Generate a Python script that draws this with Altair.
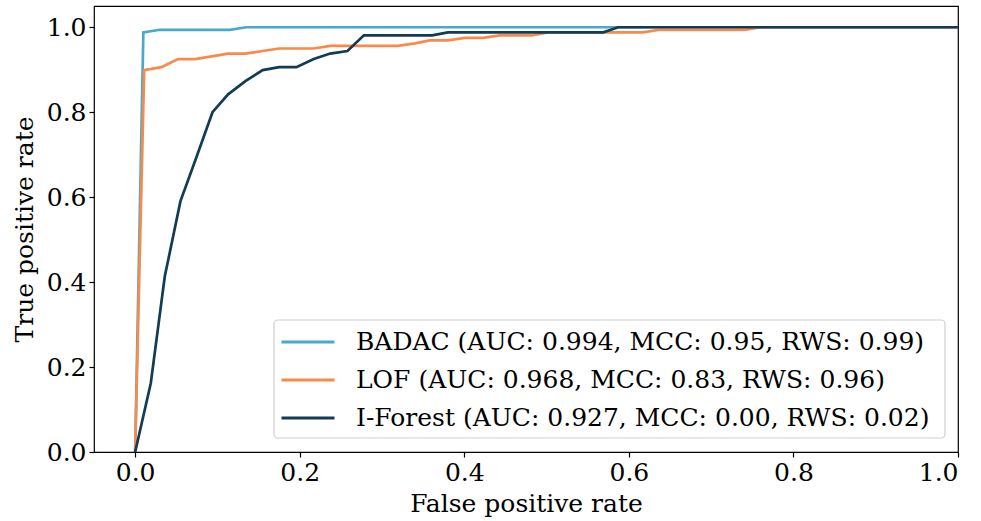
import altair as alt
import pandas as pd

series_names = ["BADAC (AUC: 0.994, MCC: 0.95, RWS: 0.99)",
                "LOF (AUC: 0.968, MCC: 0.83, RWS: 0.96)",
                "I-Forest (AUC: 0.927, MCC: 0.00, RWS: 0.02)"]
colors = ["#47aacd", "#fa8a4b", "#123b54"]

badac_fpr = [0.0, 0.010, 0.030, 0.115, 0.135, 1.0]
badac_tpr = [0.0, 0.988, 0.994, 0.994, 1.0, 1.0]

lof_fpr = [0.0, 0.011, 0.032, 0.052, 0.073, 0.095, 0.113, 0.134, 0.155, 0.175,
           0.217, 0.237, 0.319, 0.340, 0.358, 0.380, 0.401, 0.423, 0.443, 0.482,
           0.502, 0.617, 0.637, 0.741, 0.760, 1.0]
lof_tpr = [0.0, 0.899, 0.906, 0.925, 0.925, 0.932, 0.938, 0.938, 0.944, 0.950,
           0.950, 0.956, 0.956, 0.962, 0.969, 0.969, 0.975, 0.975, 0.981, 0.981,
           0.988, 0.988, 0.994, 0.994, 1.0, 1.0]

if_fpr = [0.0, 0.019, 0.036, 0.055, 0.075, 0.094, 0.113, 0.134, 0.155, 0.175,
          0.196, 0.217, 0.237, 0.258, 0.278, 0.361, 0.380, 0.569, 0.587, 1.0]
if_tpr = [0.0, 0.162, 0.413, 0.590, 0.697, 0.800, 0.842, 0.873, 0.899, 0.906,
          0.906, 0.925, 0.938, 0.944, 0.981, 0.981, 0.988, 0.988, 1.0, 1.0]

tick_values = [0.0, 0.2, 0.4, 0.6, 0.8, 1.0]

rows = []
for name, fx, ty in zip(series_names, [badac_fpr, lof_fpr, if_fpr], [badac_tpr, lof_tpr, if_tpr]):
    for i, (a, b) in enumerate(zip(fx, ty)):
        rows.append({"series": name, "fpr": a, "tpr": b, "idx": i})
df = pd.DataFrame(rows)

FONT = "DejaVu Serif"
FS = 25

color_scale = alt.Scale(domain=series_names, range=colors)

def layer(name):
    return alt.Chart(df).transform_filter(
        alt.datum.series == name
    ).mark_line(strokeWidth=2.7, clip=True).encode(
        x=alt.X("fpr:Q", scale=alt.Scale(domain=[-0.05, 1.0], nice=False, zero=False),
                axis=alt.Axis(values=tick_values, format=".1f", title="False positive rate")),
        y=alt.Y("tpr:Q", scale=alt.Scale(domain=[0.0, 1.05], nice=False),
                axis=alt.Axis(values=tick_values, format=".1f", title="True positive rate")),
        color=alt.Color("series:N", scale=color_scale,
                        legend=alt.Legend(
                            title=None, orient="none", legendX=191, legendY=313,
                            symbolType="M-2,0H2", symbolSize=702, symbolStrokeWidth=3,
                            labelFontSize=FS, labelFont=FONT, labelColor="black",
                            labelOffset=33, rowPadding=10, padding=8,
                            strokeColor="transparent", fillColor="transparent",
                            labelLimit=900)),
        order="idx:Q",
    )

legend_box = alt.Chart(alt.Data(values=[{}])).mark_rect(
    fill="white", stroke="#d0d0d0", strokeWidth=1.2, cornerRadius=4
).encode(
    x=alt.value(180), x2=alt.value(851), y=alt.value(314), y2=alt.value(432)
)

chart = alt.layer(*[layer(n) for n in series_names], legend_box).properties(
    width=864, height=446,
    padding={"left": 94, "top": 6, "right": 23, "bottom": 69},
    autosize=alt.AutoSizeParams(type="none"),
).configure_view(
    stroke="black", strokeWidth=1.2
).configure_axis(
    grid=False, domain=False, ticks=True, tickColor="black", tickSize=5, tickWidth=1.2,
    labelFont=FONT, labelFontSize=FS, labelColor="black", labelPadding=3,
    titleFont=FONT, titleFontSize=FS, titleColor="black", titleFontWeight="normal",
).configure_axisX(titlePadding=6).configure_axisY(titlePadding=9)

chart.save("out.html", embed_options={"renderer": "svg", "actions": False})
